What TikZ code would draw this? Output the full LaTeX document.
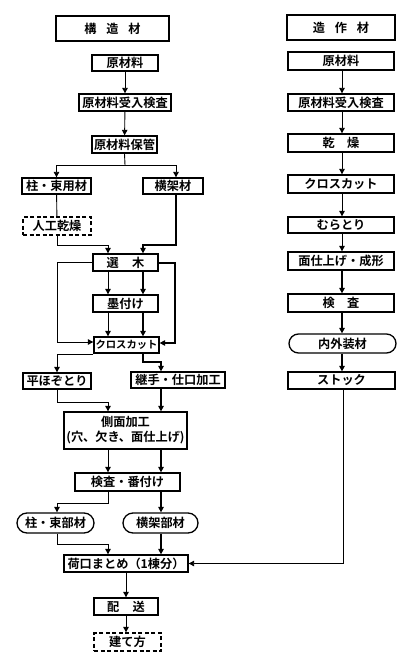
\documentclass[tikz,border=0pt]{standalone}
\usepackage{fontspec}
\setmainfont{Noto Sans CJK JP}[BoldFont={Noto Sans CJK JP Bold}]
\usetikzlibrary{arrows.meta,shapes.misc,calc}
\begin{document}
\begin{tikzpicture}[x=1pt,y=-1pt,
  every node/.style={font=\fontsize{12.2}{13}\selectfont\bfseries, inner sep=0pt, align=center},
  bx/.style={draw, line width=1.3pt, minimum height=17pt},
  ttl/.style={draw, line width=2.4pt, minimum height=25pt},
  dbx/.style={draw, line width=1.3pt, dashed, dash pattern=on 4pt off 2.5pt, minimum height=18pt},
  rbx/.style={draw, line width=1.3pt, rounded rectangle, minimum height=19pt},
  thin/.style={line width=0.9pt},
  thick2/.style={line width=2pt},
  arr/.style={-{Triangle[length=5.5pt,width=5.5pt]}},
]
\useasboundingbox (0,0) rectangle (417,660);
% lanes
\coordinate (L57) at (57,0);
\coordinate (L108) at (108,0);
\coordinate (L126) at (126,0);
\coordinate (L143) at (143,0);
\coordinate (L161) at (161,0);
\coordinate (L176) at (176,0);
\coordinate (L342) at (342,0);
% left column
\node[ttl, minimum width=113pt] (t1) at (112.5,28.5) {構\hspace{0.8em}造\hspace{0.8em}材};
\node[bx, minimum width=66pt, minimum height=16pt] (a1) at (125,63) {原材料};
\node[bx, minimum width=92pt] (a2) at (125,102.5) {原材料受入検査};
\node[bx, minimum width=65pt] (a3) at (124.5,144.5) {原材料保管};
\node[bx, minimum width=69pt, minimum height=16pt] (b1) at (56.5,186) {柱・束用材};
\node[bx, minimum width=60pt, minimum height=16pt] (b2) at (173,186) {横架材};
\node[dbx, minimum width=68pt] (b3) at (57,226) {人工乾燥};
\node[bx, minimum width=65pt] (c1) at (125.5,262.5) {選\hspace{1.1em}木};
\node[bx, minimum width=65pt] (c2) at (125.5,303.5) {墨付け};
\node[bx, minimum width=65pt, minimum height=16pt, font=\fontsize{10.3}{12}\selectfont\bfseries] (c3) at (126.5,345) {クロスカット};
\node[bx, minimum width=68pt, minimum height=16pt] (d1) at (57,381) {平ほぞとり};
\node[bx, minimum width=94pt, minimum height=16pt] (d2) at (178,380) {継手・仕口加工};
\node[bx, minimum width=123pt, minimum height=37pt, font=\fontsize{12.2}{15}\selectfont\bfseries] (e1) at (125.5,430.5) {側面加工\\(穴、欠き、面仕上げ)};
\node[bx, minimum width=105pt, minimum height=18pt] (e2) at (127.5,482) {検査・番付け};
\node[rbx, minimum width=77pt, minimum height=20pt] (f1) at (55.5,523) {柱・束部材};
\node[rbx, minimum width=75pt, minimum height=20pt] (f2) at (160.5,523) {横架部材};
\node[bx, minimum width=124pt] (g1) at (126,563.5) {荷口まとめ（1棟分）};
\node[bx, minimum width=64pt] (g2) at (126,606.5) {配\hspace{1.1em}送};
\node[dbx, minimum width=67pt] (g3) at (127.5,642) {建て方};
% right column
\node[ttl, minimum width=108pt] (t2) at (341,27.5) {造\hspace{0.8em}作\hspace{0.8em}材};
\node[bx, minimum width=106pt, minimum height=18pt] (r1) at (341,61) {原材料};
\node[bx, minimum width=106pt] (r2) at (341,102.5) {原材料受入検査};
\node[bx, minimum width=106pt, minimum height=18pt] (r3) at (341,143) {乾\hspace{1em}燥};
\node[bx, minimum width=106pt, minimum height=18pt] (r4) at (341,184) {クロスカット};
\node[bx, minimum width=106pt, minimum height=16pt] (r5) at (341,225) {むらとり};
\node[bx, minimum width=106pt, minimum height=18pt] (r6) at (341,261) {面仕上げ・成形};
\node[bx, minimum width=106pt, minimum height=18pt] (r7) at (341,303) {検\hspace{1em}査};
\node[rbx, minimum width=107pt] (r8) at (342.5,343.5) {内外装材};
\node[bx, minimum width=107pt] (r9) at (341.5,380.5) {ストック};
% helper coordinates
\coordinate (br) at (125,165);
\coordinate (m1) at (57,245);
\coordinate (m2) at (176,245);
\coordinate (lp1) at (57,342);
\coordinate (rp1) at (175,343);
\coordinate (k1) at (143,362);
\coordinate (n1) at (57,402);
\coordinate (p1) at (108,503);
\coordinate (q1) at (57,544);
\coordinate (s1) at (343,563.5);
% left connectors
\draw[thin,arr] (a1) -- (a2);
\draw[thin,arr] (a2) -- (a3);
\draw[thin] (a3.south) -- (br);
\draw[thin,arr] (br) -| (b1.north);
\draw[thin,arr] (br) -| (b2.north -| L176);
\draw[thin] (b1) -- (b3);
\draw[thin,arr] (b3.south) |- (m1 -| L108) -- (c1.north -| L108);
\draw[thick2,arr] (b2.south -| L176) -- (m2) -| (c1.north -| L143);
\draw[thin,arr] (c1.south -| L108) -- (c2.north -| L108);
\draw[thick2,arr] (c1.south -| L143) -- (c2.north -| L143);
\draw[thin,arr] (c2.south -| L108) -- (c3.north -| L108);
\draw[thick2,arr] (c2.south -| L143) -- (c3.north -| L143);
\draw[thin,arr] (c1.west) -| (lp1) -- (lp1 -| c3.west);
\draw[thick2,arr] (c1.east) -| (rp1) -- (rp1 -| c3.east);
\draw[thin,arr] ([yshift=-1pt]c3.south west) -| (d1.north);
\draw[line width=1.4pt,arr] (c3.south -| L143) -- (k1) -| (d2.north -| L161);
\draw[thin,arr] (d1.south) -- (n1) -| (e1.north -| L108);
\draw[thick2,arr] (d2.south -| L161) -- (e1.north -| L161);
\draw[thin,arr] (e1.south -| L108) -- (e2.north -| L108);
\draw[thick2,arr] (e1.south -| L161) -- (e2.north -| L161);
\draw[thin,arr] (e2.south -| L108) -- (p1) -| (f1.north -| L57);
\draw[thick2,arr] (e2.south -| L161) -- (f2.north -| L161);
\draw[thin,arr] (f1.south -| L57) -- (q1) -| (g1.north -| L108);
\draw[thick2,arr] (f2.south -| L161) -- (g1.north -| L161);
\draw[thin,arr] (g1.south -| L126) -- (g2.north -| L126);
\draw[thin,arr] (g2.south -| L126) -- (g3.north -| L126);
% right connectors
\draw[thin,arr] (r1.south -| L342) -- (r2.north -| L342);
\draw[thin,arr] (r2.south -| L342) -- (r3.north -| L342);
\draw[thin,arr] (r3.south -| L342) -- (r4.north -| L342);
\draw[thin,arr] (r4.south -| L342) -- (r5.north -| L342);
\draw[thin,arr] (r5.south -| L342) -- (r6.north -| L342);
\draw[thick2,arr] (r6.south -| L342) -- (r7.north -| L342);
\draw[thick2,arr] (r7.south -| L342) -- (r8.north -| L342);
\draw[thick2,arr] (r8.south -| L342) -- (r9.north -| L342);
\draw[thin,arr] (r9.south -| s1) -- (s1) -- (g1.east);
\end{tikzpicture}
\end{document}
